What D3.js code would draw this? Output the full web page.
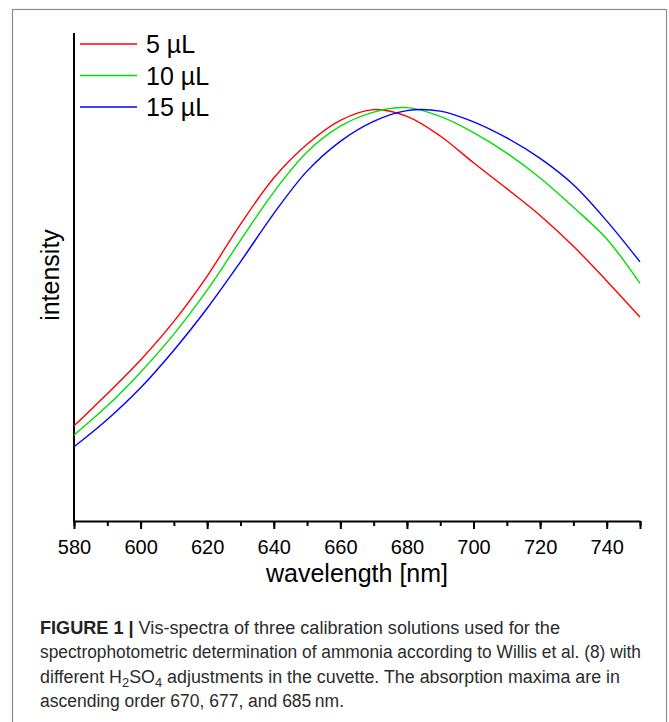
<!DOCTYPE html>
<html>
<head>
	<title>Vis-spectra calibration</title>
	<script src="https://cdnjs.cloudflare.com/ajax/libs/d3/7.8.5/d3.min.js" charset="utf-8"></script>
	<style>
		body { margin: 0; background: white; }
		text { font-family: "Liberation Sans", Arial, sans-serif; }
		.tick text { font-size: 20px; fill: black; }
		.caption { white-space: pre; }
	</style>
</head>
<body>

	<svg id="main" width="669" height="722"></svg>

	<script>

		// wavelength grid (nm) and intensities (arbitrary units)
		var wavelengths = [580, 590, 600, 610, 620, 630, 640, 650, 660, 670, 680, 690, 700, 710, 720, 730, 740, 750];
		var series5 = [19.5, 26.1, 33.0, 40.9, 50.2, 60.8, 70.3, 77.2, 82.1, 84.3, 82.9, 78.9, 73.4, 68.1, 62.6, 56.3, 49.2, 41.8];
		var series10 = [17.6, 23.6, 30.5, 38.3, 47.3, 57.5, 67.4, 75.6, 80.9, 83.8, 84.7, 82.9, 79.6, 75.4, 70.3, 64.3, 57.8, 48.7];
		var series15 = [15.2, 20.8, 27.3, 35.0, 43.6, 53.1, 63.0, 71.7, 77.8, 81.9, 84.1, 84.0, 81.8, 78.5, 74.3, 68.9, 61.5, 53.1];

		var seriesNames = ['5 \u00b5L', '10 \u00b5L', '15 \u00b5L'];
		var seriesColors = ['#ff0000', '#00e000', '#0000ff'];
		var xTicks = [580, 600, 620, 640, 660, 680, 700, 720, 740];

		var svg = d3.select('#main');

		// figure frame
		svg.append('rect')
			.attr('x', 12.5).attr('y', 9.5)
			.attr('width', 654).attr('height', 740)
			.attr('fill', 'none')
			.attr('stroke', '#8c8c8c')
			.attr('stroke-width', 1.2);

		var x = d3.scaleLinear().domain([580, 750]).range([74, 640]);
		var y = d3.scaleLinear().domain([0, 100]).range([521, 33]);

		// x axis, major + minor ticks
		var minor = d3.range(580, 751, 10);
		svg.append('g')
			.attr('transform', 'translate(0,521)')
			.call(d3.axisBottom(x).tickValues(minor).tickSize(5).tickFormat(''))
			.call(function(g) { g.select('.domain').remove(); })
			.selectAll('line').attr('stroke-width', 2);

		var xAxis = svg.append('g')
			.attr('transform', 'translate(0,521)')
			.call(d3.axisBottom(x).tickValues(xTicks.concat([750])).tickSize(8).tickSizeOuter(0)
				.tickFormat(function(d) { return d == 750 ? '' : d; }));
		xAxis.select('.domain').attr('stroke-width', 2);
		xAxis.selectAll('line').attr('stroke-width', 2);
		xAxis.selectAll('text').attr('dy', '1.12em').attr('font-family', '"Liberation Sans", Arial, sans-serif');

		// y axis: line only
		svg.append('line')
			.attr('x1', 74).attr('x2', 74)
			.attr('y1', y(100)).attr('y2', 522)
			.attr('stroke', 'black').attr('stroke-width', 2);

		// curves
		var line = d3.line()
			.x(function(d, i) { return x(wavelengths[i]); })
			.y(function(d) { return y(d); })
			.curve(d3.curveCatmullRom);

		var allSeries = [series5, series10, series15];
		svg.selectAll('path.spec').data(allSeries).enter().append('path')
			.attr('class', 'spec')
			.attr('d', line)
			.attr('fill', 'none')
			.attr('stroke', function(d, i) { return seriesColors[i]; })
			.attr('stroke-width', 1.4);

		// legend
		var legend = svg.selectAll('g.leg').data(seriesNames).enter().append('g')
			.attr('class', 'leg')
			.attr('transform', function(d, i) { return 'translate(80,' + (44 + i * 31.5) + ')'; });
		legend.append('line')
			.attr('x1', 0).attr('x2', 57)
			.attr('stroke', function(d, i) { return seriesColors[i]; })
			.attr('stroke-width', 1.4);
		legend.append('text')
			.attr('x', 66).attr('y', 9)
			.attr('font-size', 25)
			.text(function(d) { return d; });

		// axis titles
		svg.append('text')
			.attr('x', 357).attr('y', 582)
			.attr('text-anchor', 'middle')
			.attr('font-size', 25)
			.text('wavelength [nm]');

		svg.append('text')
			.attr('transform', 'translate(59,275) rotate(-90)')
			.attr('text-anchor', 'middle')
			.attr('font-size', 25)
			.text('intensity');

		// caption: each line is laid out piece by piece, then squeezed to the width of the original
		function captionLine(parts, yPos, width) 
		{
			var pieces = [];
			var total = 0;
			parts.forEach(function(p) {
				var t = svg.append('text').attr('class', 'caption')
					.attr('y', yPos + (p.sub ? 4 : 0))
					.attr('font-size', p.sub ? 13 : 18)
					.attr('font-weight', p.bold ? 'bold' : null)
					.attr('fill', p.color || '#2b2b2b')
					.text(p.text);
				var w = t.node().getComputedTextLength();
				pieces.push({ node: t, w: w });
				total += w;
			});
			var k = width / total;
			var cx = 40;
			pieces.forEach(function(p) {
				p.node.attr('x', cx)
					.attr('textLength', p.w * k)
					.attr('lengthAdjust', 'spacingAndGlyphs');
				cx += p.w * k;
			});
		}

		captionLine([
			{ text: 'FIGURE 1 | ', bold: true, color: '#222' },
			{ text: 'Vis-spectra of three calibration solutions used for the' }
		], 634, 520);

		captionLine([
			{ text: 'spectrophotometric determination of ammonia according to Willis et al. (8) with' }
		], 658, 601);

		captionLine([
			{ text: 'different H' },
			{ text: '2', sub: true },
			{ text: 'SO' },
			{ text: '4', sub: true },
			{ text: ' adjustments in the cuvette. The absorption maxima are in' }
		], 683, 580);

		captionLine([
			{ text: 'ascending order 670, 677, and 685\u2009nm.' }
		], 707, 304);

	</script>
</body>
</html>
